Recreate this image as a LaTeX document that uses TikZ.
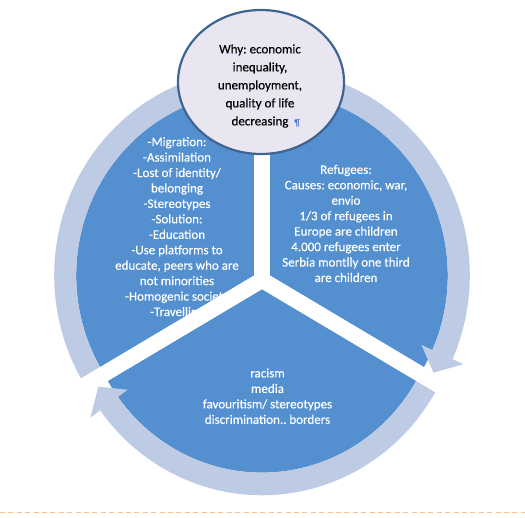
\documentclass[tikz,border=0pt]{standalone}
\usepackage{fontspec}
\setmainfont{Carlito}
\newfontfamily\segfont{Carlito}[FakeBold=0.3]
\usetikzlibrary{calc,shapes.geometric}
\definecolor{segblue}{RGB}{84,143,207}
\definecolor{ringblue}{RGB}{189,203,228}
\definecolor{bubblefill}{RGB}{233,230,241}
\definecolor{bubbleline}{RGB}{62,100,146}
\definecolor{pilcrowblue}{RGB}{68,114,196}
\definecolor{dashorange}{RGB}{250,192,143}
\frenchspacing
\tikzset{
  sector/.style={fill=segblue},
  ringarc/.style={fill=ringblue},
  gapband/.style={draw=white,line width=15.6pt},
  segtext/.style={text=white,align=center,inner sep=0pt,font=\segfont\fontsize{13}{15.45}\selectfont},
  bubble/.style={ellipse,draw=bubbleline,line width=2.2pt,fill=bubblefill,minimum width=166pt,minimum height=144pt,inner sep=0pt},
  bubbletext/.style={text=black,align=center,inner sep=0pt,font=\segfont\fontsize{13}{18}\selectfont},
  footline/.style={draw=dashorange,line width=1.2pt,dash pattern=on 5pt off 3.4pt}
}
\begin{document}
\begin{tikzpicture}[x=1pt,y=1pt]
\useasboundingbox (0,0) rectangle (525,517);
\begin{scope}[shift={(262,237)},yscale=1.03]
  % sectors (exploded)
  \coordinate (VR) at (30:9);
  \coordinate (VL) at (150:9);
  \coordinate (VB) at (270:9);
  \fill[sector] (VR) -- ($(VR)+(90:178)$) arc[start angle=90,end angle=-30,radius=178] -- cycle;
  \fill[sector] (VL) -- ($(VL)+(210:178)$) arc[start angle=210,end angle=90,radius=178] -- cycle;
  \fill[sector] (VB) -- ($(VB)+(-30:178)$) arc[start angle=-30,end angle=-150,radius=178] -- cycle;
  % ring arcs
  \fill[ringarc] ($(VL)+(210:200)$) arc[start angle=210,end angle=96,radius=200] -- ($(VL)+(96:178)$) arc[start angle=96,end angle=210,radius=178] -- cycle;
  \fill[ringarc] ($(VR)+(90:200)$) arc[start angle=90,end angle=-24,radius=200] -- ($(VR)+(-24:178)$) arc[start angle=-24,end angle=90,radius=178] -- cycle;
  \fill[ringarc] ($(VB)+(-30:200)$) arc[start angle=-30,end angle=-144,radius=200] -- ($(VB)+(-144:178)$) arc[start angle=-144,end angle=-30,radius=178] -- cycle;
\end{scope}
% sector texts
\node[segtext] (left) at (177,289.3) {-Migration:\\-Assimilation\\-Lost of identity/\\belonging\\-Stereotypes\\-Solution:\\-Education\\-Use platforms to\\educate, peers who are\\not minorities\\-Homogenic society\\-Travelling};
\node[segtext] (right) at (346,293.5) {Refugees:\\Causes: economic, war,\\envio\\1/3 of refugees in\\Europe are children\\4.000 refugees enter\\Serbia montlly one third\\are children};
\node[segtext] (bottom) at (267.5,120.8) {racism\\media\\favouritism/ stereotypes\\discrimination.. borders};
\begin{scope}[shift={(262,237)},yscale=1.03]
  \coordinate (C) at (0,0);
  \draw[gapband] (C) -- (90:235);
  \draw[gapband] (C) -- (-30:235);
  \draw[gapband] (C) -- (210:235);
  % arrowheads
  \fill[ringarc] ($(VL)+(96:212)$) -- ($(VL)+(90:189)$) -- ($(VL)+(96:166)$) -- cycle;
  \fill[ringarc] ($(VR)+(-24:212)$) -- ($(VR)+(-30:189)$) -- ($(VR)+(-24:166)$) -- cycle;
  \fill[ringarc] ($(VB)+(-144:212)$) -- ($(VB)+(-150:189)$) -- ($(VB)+(-144:166)$) -- cycle;
\end{scope}
% bubble
\node[bubble] (why) at (261,435) {};
\node[bubbletext] (whytext) at (260,431) {Why: economic\\inequality,\\unemployment,\\quality of life\\decreasing\rlap{\hspace{6pt}\textcolor{pilcrowblue}{\fontsize{9}{9}\selectfont ¶}}};
% footer dashed line
\coordinate (fl) at (0,4.7);
\coordinate (fr) at (525,4.7);
\draw[footline] (fl) -- (fr);
\end{tikzpicture}
\end{document}
